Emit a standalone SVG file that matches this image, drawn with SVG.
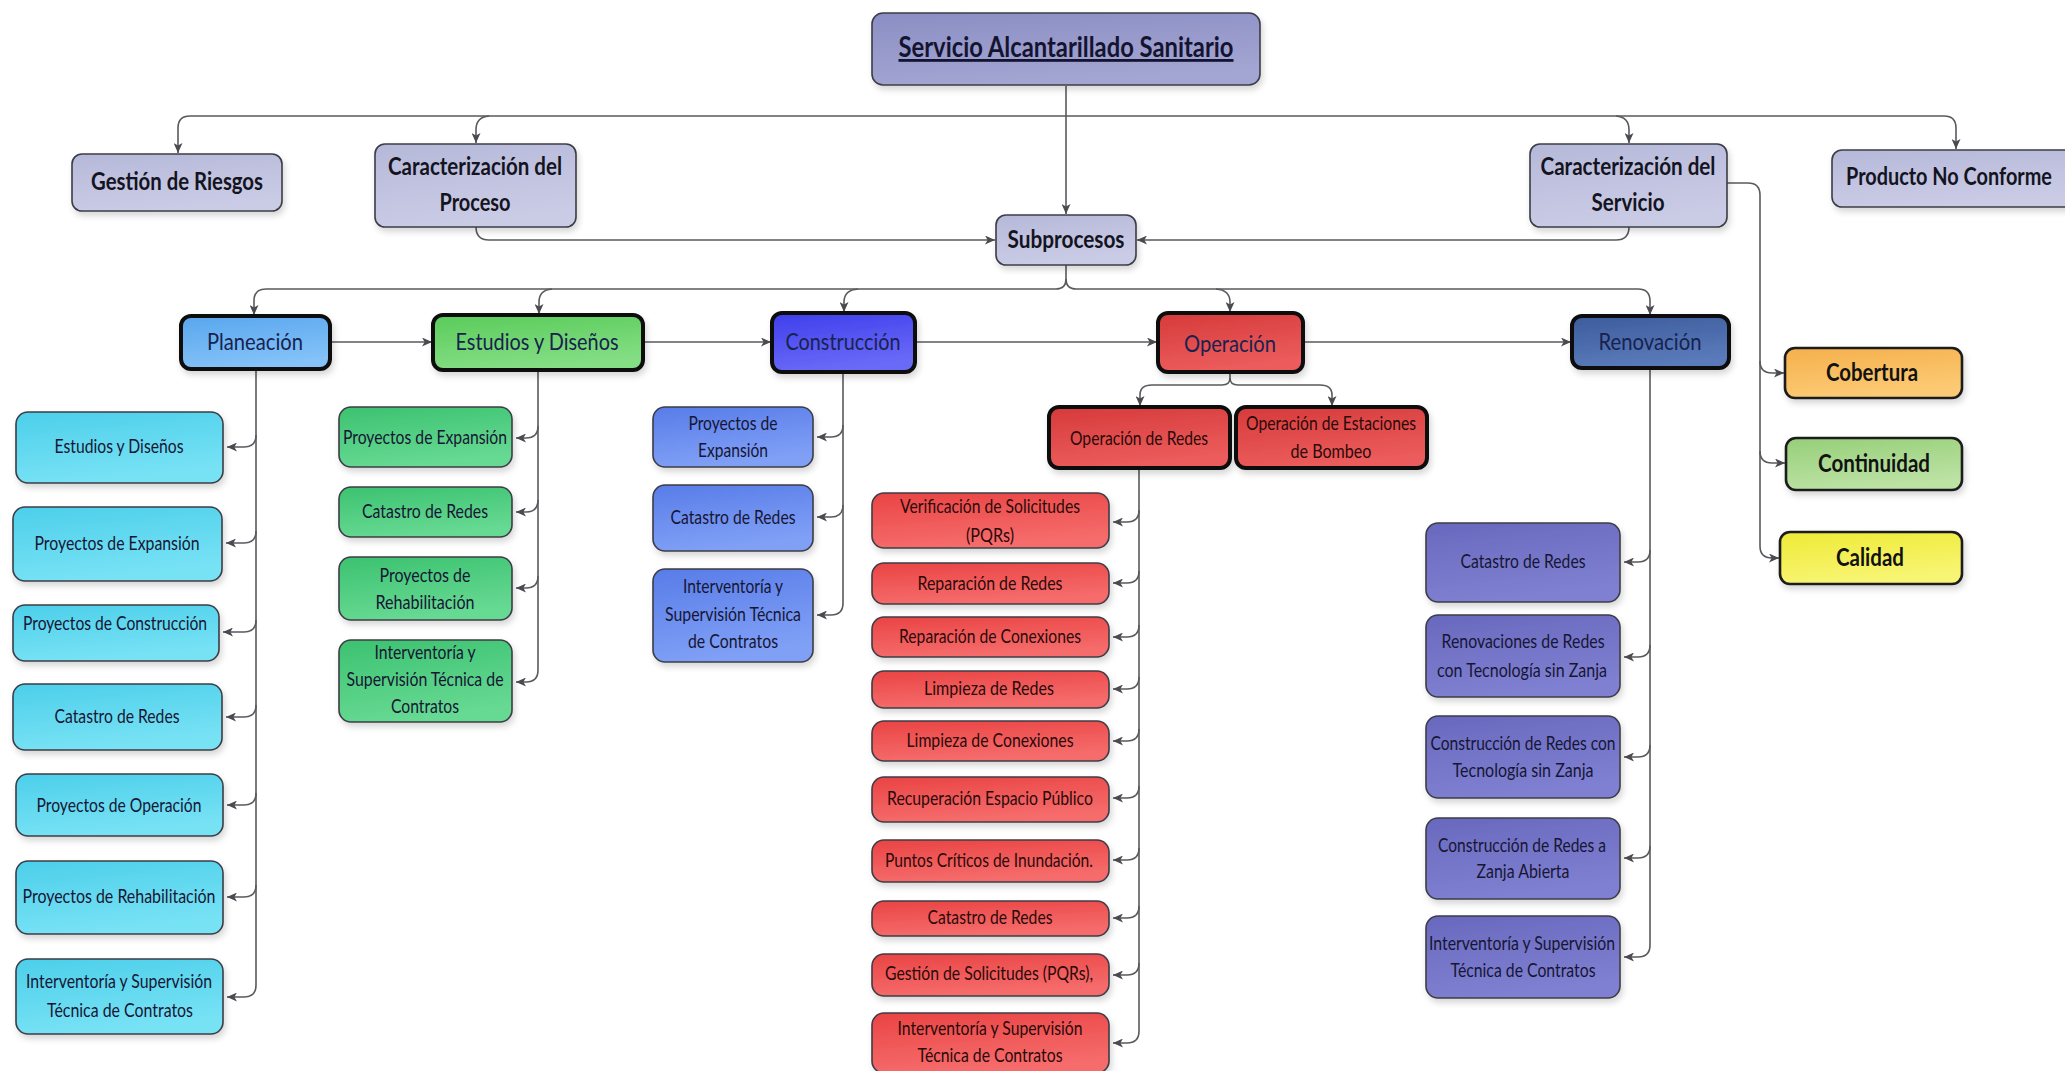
<svg xmlns="http://www.w3.org/2000/svg" width="2065" height="1071" viewBox="0 0 2065 1071">
  <style>
    .box { stroke: #3c3c46; stroke-width: 1.6; filter: url(#sh); }
    .thick { stroke: #0c0c0c; stroke-width: 4; }
    .mid { stroke: #1a1a1a; stroke-width: 2.6; }
    .t { font-family: Lato, "Open Sans", "Liberation Sans", sans-serif; font-size: 19px; fill: #161634; text-anchor: middle; }
    .tr { fill: #2a0a0a; }
    .sub { font-size: 24px; fill: #18224e; }
    .top { font-size: 25px; font-weight: 700; fill: #14141e; }
    .q { font-size: 25px; font-weight: 700; fill: #121212; }
    .title { font-size: 28px; font-weight: 700; fill: #141430; text-decoration: underline; }
    .op { font-size: 20px; }
    .c { fill: none; stroke: #5a5a5e; stroke-width: 1.6; }
    .a { marker-end: url(#ah); }
  </style>
  <defs>
    <marker id="ah" markerUnits="userSpaceOnUse" markerWidth="11" markerHeight="9" refX="10" refY="4.5" orient="auto">
      <path d="M0,0 L10,4.5 L0,9 L2.6,4.5 Z" fill="#4a4a50"/>
    </marker>
    <filter id="sh" x="-10%" y="-10%" width="130%" height="140%">
      <feDropShadow dx="2" dy="4" stdDeviation="3" flood-color="#000" flood-opacity="0.16"/>
    </filter>
    <linearGradient id="gLav" x1="0" y1="0" x2="0.3" y2="1"><stop offset="0" stop-color="#b6b8d9"/><stop offset="1" stop-color="#cacce6"/></linearGradient>
    <linearGradient id="gSrv" x1="0" y1="0" x2="0.3" y2="1"><stop offset="0" stop-color="#8b8ec3"/><stop offset="1" stop-color="#a3a6d2"/></linearGradient>
    <linearGradient id="gPla" x1="0" y1="0" x2="0.3" y2="1"><stop offset="0" stop-color="#58a6ee"/><stop offset="1" stop-color="#84c2f8"/></linearGradient>
    <linearGradient id="gEst" x1="0" y1="0" x2="0.3" y2="1"><stop offset="0" stop-color="#5acb5a"/><stop offset="1" stop-color="#84de84"/></linearGradient>
    <linearGradient id="gCon" x1="0" y1="0" x2="0.3" y2="1"><stop offset="0" stop-color="#3e3eec"/><stop offset="1" stop-color="#6a6af8"/></linearGradient>
    <linearGradient id="gOpe" x1="0" y1="0" x2="0.3" y2="1"><stop offset="0" stop-color="#d63a3a"/><stop offset="1" stop-color="#ec5c5c"/></linearGradient>
    <linearGradient id="gRen" x1="0" y1="0" x2="0.3" y2="1"><stop offset="0" stop-color="#3c5c9c"/><stop offset="1" stop-color="#5a7aba"/></linearGradient>
    <linearGradient id="gCya" x1="0" y1="0" x2="0.3" y2="1"><stop offset="0" stop-color="#4ccfea"/><stop offset="1" stop-color="#78e2f5"/></linearGradient>
    <linearGradient id="gGrn" x1="0" y1="0" x2="0.3" y2="1"><stop offset="0" stop-color="#3cc270"/><stop offset="1" stop-color="#66d992"/></linearGradient>
    <linearGradient id="gBlu" x1="0" y1="0" x2="0.3" y2="1"><stop offset="0" stop-color="#587ce8"/><stop offset="1" stop-color="#80a0f6"/></linearGradient>
    <linearGradient id="gRed" x1="0" y1="0" x2="0.3" y2="1"><stop offset="0" stop-color="#ea4444"/><stop offset="1" stop-color="#f66c6c"/></linearGradient>
    <linearGradient id="gPur" x1="0" y1="0" x2="0.3" y2="1"><stop offset="0" stop-color="#6868be"/><stop offset="1" stop-color="#8080d2"/></linearGradient>
    <linearGradient id="gCob" x1="0" y1="0" x2="0.3" y2="1"><stop offset="0" stop-color="#f5b04c"/><stop offset="1" stop-color="#fcca74"/></linearGradient>
    <linearGradient id="gCnt" x1="0" y1="0" x2="0.3" y2="1"><stop offset="0" stop-color="#96cf78"/><stop offset="1" stop-color="#bce2a4"/></linearGradient>
    <linearGradient id="gCal" x1="0" y1="0" x2="0.3" y2="1"><stop offset="0" stop-color="#eeea36"/><stop offset="1" stop-color="#f8f574"/></linearGradient>
  </defs>

  <rect width="2065" height="1071" fill="#ffffff"/>

  <!-- connectors -->
  <g id="connectors">
    <!-- root to Subprocesos -->
    <path class="c a" d="M1066,86 V214"/>
    <!-- upper bus -->
    <path class="c a" d="M1066,116 H190 Q178,116 178,128 V153"/>
    <path class="c a" d="M1066,116 H1944 Q1956,116 1956,128 V149"/>
    <path class="c a" d="M489,116 Q476,117 476,130 V143"/>
    <path class="c a" d="M1616,116 Q1629,117 1629,130 V143"/>
    <!-- characterisations into Subprocesos -->
    <path class="c a" d="M476,227 Q476,240 489,240 H995"/>
    <path class="c a" d="M1629,227 Q1629,240 1616,240 H1137"/>
    <!-- Caracterización del Servicio to quality attributes -->
    <path class="c a" d="M1727,183 H1748 Q1760,183 1760,195 V546 Q1760,558 1772,558 H1779"/>
    <path class="c a" d="M1760,361 Q1760,373 1772,373 H1784"/>
    <path class="c a" d="M1760,451 Q1760,463 1772,463 H1785"/>
    <!-- Subprocesos to lower bus -->
    <path class="c a" d="M1066,265 V279 Q1066,289 1056,289 H266 Q254,289 254,301 V315"/>
    <path class="c a" d="M1066,279 Q1066,289 1076,289 H1638 Q1650,289 1650,301 V315"/>
    <path class="c a" d="M552,289 Q539,290 539,302 V314"/>
    <path class="c a" d="M858,289 Q844,290 844,302 V312"/>
    <path class="c a" d="M1216,289 Q1230,290 1230,302 V312"/>
    <!-- process chain -->
    <path class="c a" d="M330,342 H432"/>
    <path class="c a" d="M643,342 H771"/>
    <path class="c a" d="M915,342 H1157"/>
    <path class="c a" d="M1303,342 H1571"/>
    <!-- Operación split -->
    <path class="c a" d="M1230,372 V378 Q1230,385 1222,385 H1152 Q1140,385 1140,395 V406"/>
    <path class="c a" d="M1230,378 Q1230,385 1238,385 H1320 Q1332,385 1332,395 V406"/>
    <!-- Planeación children -->
    <path class="c a" d="M256,369 V985 Q256,997 244,997 H227"/>
    <path class="c a" d="M256,435 Q256,447 244,447 H227"/>
    <path class="c a" d="M256,531 Q256,543 244,543 H226"/>
    <path class="c a" d="M256,620 Q256,632 244,632 H223"/>
    <path class="c a" d="M256,705 Q256,717 244,717 H226"/>
    <path class="c a" d="M256,793 Q256,805 244,805 H227"/>
    <path class="c a" d="M256,885 Q256,897 244,897 H227"/>
    <!-- Estudios y Diseños children -->
    <path class="c a" d="M538,370 V670 Q538,682 526,682 H516"/>
    <path class="c a" d="M538,426 Q538,438 526,438 H516"/>
    <path class="c a" d="M538,500 Q538,512 526,512 H516"/>
    <path class="c a" d="M538,576 Q538,588 526,588 H516"/>
    <!-- Construcción children -->
    <path class="c a" d="M843,372 V603 Q843,615 831,615 H817"/>
    <path class="c a" d="M843,425 Q843,437 831,437 H817"/>
    <path class="c a" d="M843,505 Q843,517 831,517 H817"/>
    <!-- Operación de Redes children -->
    <path class="c a" d="M1139,468 V1031 Q1139,1043 1127,1043 H1113"/>
    <path class="c a" d="M1139,510 Q1139,522 1127,522 H1113"/>
    <path class="c a" d="M1139,571 Q1139,583 1127,583 H1113"/>
    <path class="c a" d="M1139,625 Q1139,637 1127,637 H1113"/>
    <path class="c a" d="M1139,677 Q1139,689 1127,689 H1113"/>
    <path class="c a" d="M1139,729 Q1139,741 1127,741 H1113"/>
    <path class="c a" d="M1139,786 Q1139,798 1127,798 H1113"/>
    <path class="c a" d="M1139,848 Q1139,860 1127,860 H1113"/>
    <path class="c a" d="M1139,906 Q1139,918 1127,918 H1113"/>
    <path class="c a" d="M1139,963 Q1139,975 1127,975 H1113"/>
    <!-- Renovación children -->
    <path class="c a" d="M1650,368 V945 Q1650,957 1638,957 H1624"/>
    <path class="c a" d="M1650,550 Q1650,562 1638,562 H1624"/>
    <path class="c a" d="M1650,645 Q1650,657 1638,657 H1624"/>
    <path class="c a" d="M1650,745 Q1650,757 1638,757 H1624"/>
    <path class="c a" d="M1650,846 Q1650,858 1638,858 H1624"/>
  </g>

  <!-- top level -->
  <g id="n-servicio">
    <rect class="box" x="872" y="13" width="388" height="72" rx="11" fill="url(#gSrv)"/>
    <text class="t title" x="1066" y="57" textLength="335" lengthAdjust="spacingAndGlyphs">Servicio Alcantarillado Sanitario</text>
  </g>
  <g id="n-gestion-riesgos">
    <rect class="box" x="72" y="154" width="210" height="57" rx="10" fill="url(#gLav)"/>
    <text class="t top" x="177" y="190" textLength="172" lengthAdjust="spacingAndGlyphs">Gestión de Riesgos</text>
  </g>
  <g id="n-caract-proceso">
    <rect class="box" x="375" y="144" width="201" height="83" rx="10" fill="url(#gLav)"/>
    <text class="t top" x="475" y="175" textLength="174" lengthAdjust="spacingAndGlyphs">Caracterización del</text>
    <text class="t top" x="475" y="211" textLength="71" lengthAdjust="spacingAndGlyphs">Proceso</text>
  </g>
  <g id="n-caract-servicio">
    <rect class="box" x="1530" y="144" width="197" height="83" rx="10" fill="url(#gLav)"/>
    <text class="t top" x="1628" y="175" textLength="175" lengthAdjust="spacingAndGlyphs">Caracterización del</text>
    <text class="t top" x="1628" y="211" textLength="73" lengthAdjust="spacingAndGlyphs">Servicio</text>
  </g>
  <g id="n-producto-no-conforme">
    <rect class="box" x="1832" y="150" width="260" height="57" rx="10" fill="url(#gLav)"/>
    <text class="t top" x="1949" y="185" textLength="206" lengthAdjust="spacingAndGlyphs">Producto No Conforme</text>
  </g>
  <g id="n-subprocesos">
    <rect class="box" x="996" y="215" width="140" height="50" rx="10" fill="url(#gLav)"/>
    <text class="t top" x="1066" y="248" textLength="117" lengthAdjust="spacingAndGlyphs">Subprocesos</text>
  </g>

  <!-- subprocesses -->
  <g id="n-planeacion">
    <rect class="box thick" x="181" y="316" width="149" height="53" rx="10" fill="url(#gPla)"/>
    <text class="t sub" x="255" y="350" textLength="96" lengthAdjust="spacingAndGlyphs">Planeación</text>
  </g>
  <g id="n-estudios-disenos">
    <rect class="box thick" x="433" y="315" width="210" height="55" rx="10" fill="url(#gEst)"/>
    <text class="t sub" x="537" y="350" textLength="163" lengthAdjust="spacingAndGlyphs">Estudios y Diseños</text>
  </g>
  <g id="n-construccion">
    <rect class="box thick" x="772" y="313" width="143" height="59" rx="10" fill="url(#gCon)"/>
    <text class="t sub" x="843" y="350" textLength="115" lengthAdjust="spacingAndGlyphs">Construcción</text>
  </g>
  <g id="n-operacion">
    <rect class="box thick" x="1158" y="313" width="145" height="59" rx="10" fill="url(#gOpe)"/>
    <text class="t sub" x="1230" y="352" textLength="92" lengthAdjust="spacingAndGlyphs">Operación</text>
  </g>
  <g id="n-renovacion">
    <rect class="box thick" x="1572" y="316" width="157" height="52" rx="10" fill="url(#gRen)"/>
    <text class="t sub" x="1650" y="350" textLength="103" lengthAdjust="spacingAndGlyphs">Renovación</text>
  </g>

  <!-- service characteristics -->
  <g id="n-cobertura">
    <rect class="box mid" x="1785" y="348" width="177" height="50" rx="10" fill="url(#gCob)"/>
    <text class="t q" x="1872" y="381" textLength="92" lengthAdjust="spacingAndGlyphs">Cobertura</text>
  </g>
  <g id="n-continuidad">
    <rect class="box mid" x="1786" y="438" width="176" height="52" rx="10" fill="url(#gCnt)"/>
    <text class="t q" x="1874" y="472" textLength="112" lengthAdjust="spacingAndGlyphs">Continuidad</text>
  </g>
  <g id="n-calidad">
    <rect class="box mid" x="1780" y="532" width="182" height="52" rx="10" fill="url(#gCal)"/>
    <text class="t q" x="1870" y="566" textLength="68" lengthAdjust="spacingAndGlyphs">Calidad</text>
  </g>

  <!-- Planeación activities -->
  <g id="n-pla-estudios">
    <rect class="box" x="16" y="412" width="207" height="71" rx="12" fill="url(#gCya)"/>
    <text class="t" x="119" y="453" textLength="129" lengthAdjust="spacingAndGlyphs">Estudios y Diseños</text>
  </g>
  <g id="n-pla-expansion">
    <rect class="box" x="13" y="507" width="209" height="74" rx="12" fill="url(#gCya)"/>
    <text class="t" x="117" y="550" textLength="165" lengthAdjust="spacingAndGlyphs">Proyectos de Expansión</text>
  </g>
  <g id="n-pla-construccion">
    <rect class="box" x="13" y="605" width="206" height="56" rx="12" fill="url(#gCya)"/>
    <text class="t" x="115" y="630" textLength="184" lengthAdjust="spacingAndGlyphs">Proyectos de Construcción</text>
  </g>
  <g id="n-pla-catastro">
    <rect class="box" x="13" y="684" width="209" height="66" rx="12" fill="url(#gCya)"/>
    <text class="t" x="117" y="723" textLength="125" lengthAdjust="spacingAndGlyphs">Catastro de Redes</text>
  </g>
  <g id="n-pla-operacion">
    <rect class="box" x="16" y="774" width="207" height="62" rx="12" fill="url(#gCya)"/>
    <text class="t" x="119" y="812" textLength="165" lengthAdjust="spacingAndGlyphs">Proyectos de Operación</text>
  </g>
  <g id="n-pla-rehabilitacion">
    <rect class="box" x="16" y="861" width="207" height="73" rx="12" fill="url(#gCya)"/>
    <text class="t" x="119" y="903" textLength="193" lengthAdjust="spacingAndGlyphs">Proyectos de Rehabilitación</text>
  </g>
  <g id="n-pla-interventoria">
    <rect class="box" x="16" y="959" width="207" height="75" rx="12" fill="url(#gCya)"/>
    <text class="t" x="119" y="988" textLength="186" lengthAdjust="spacingAndGlyphs">Interventoría y Supervisión</text>
    <text class="t" x="120" y="1017" textLength="146" lengthAdjust="spacingAndGlyphs">Técnica de Contratos</text>
  </g>

  <!-- Estudios y Diseños activities -->
  <g id="n-est-expansion">
    <rect class="box" x="339" y="407" width="173" height="60" rx="12" fill="url(#gGrn)"/>
    <text class="t" x="425" y="444" textLength="164" lengthAdjust="spacingAndGlyphs">Proyectos de Expansión</text>
  </g>
  <g id="n-est-catastro">
    <rect class="box" x="339" y="487" width="173" height="50" rx="12" fill="url(#gGrn)"/>
    <text class="t" x="425" y="518" textLength="126" lengthAdjust="spacingAndGlyphs">Catastro de Redes</text>
  </g>
  <g id="n-est-rehabilitacion">
    <rect class="box" x="339" y="557" width="173" height="63" rx="12" fill="url(#gGrn)"/>
    <text class="t" x="425" y="582" textLength="91" lengthAdjust="spacingAndGlyphs">Proyectos de</text>
    <text class="t" x="425" y="609" textLength="99" lengthAdjust="spacingAndGlyphs">Rehabilitación</text>
  </g>
  <g id="n-est-interventoria">
    <rect class="box" x="339" y="640" width="173" height="82" rx="12" fill="url(#gGrn)"/>
    <text class="t" x="425" y="659" textLength="101" lengthAdjust="spacingAndGlyphs">Interventoría y</text>
    <text class="t" x="425" y="686" textLength="157" lengthAdjust="spacingAndGlyphs">Supervisión Técnica de</text>
    <text class="t" x="425" y="713" textLength="68" lengthAdjust="spacingAndGlyphs">Contratos</text>
  </g>

  <!-- Construcción activities -->
  <g id="n-con-expansion">
    <rect class="box" x="653" y="407" width="160" height="60" rx="12" fill="url(#gBlu)"/>
    <text class="t" x="733" y="430" textLength="89" lengthAdjust="spacingAndGlyphs">Proyectos de</text>
    <text class="t" x="733" y="457" textLength="70" lengthAdjust="spacingAndGlyphs">Expansión</text>
  </g>
  <g id="n-con-catastro">
    <rect class="box" x="653" y="485" width="160" height="66" rx="12" fill="url(#gBlu)"/>
    <text class="t" x="733" y="524" textLength="125" lengthAdjust="spacingAndGlyphs">Catastro de Redes</text>
  </g>
  <g id="n-con-interventoria">
    <rect class="box" x="653" y="569" width="160" height="93" rx="12" fill="url(#gBlu)"/>
    <text class="t" x="733" y="593" textLength="100" lengthAdjust="spacingAndGlyphs">Interventoría y</text>
    <text class="t" x="733" y="621" textLength="136" lengthAdjust="spacingAndGlyphs">Supervisión Técnica</text>
    <text class="t" x="733" y="648" textLength="90" lengthAdjust="spacingAndGlyphs">de Contratos</text>
  </g>

  <!-- Operación branches -->
  <g id="n-ope-redes">
    <rect class="box thick" x="1049" y="407" width="181" height="61" rx="10" fill="url(#gOpe)"/>
    <text class="t op tr" x="1139" y="445" textLength="138" lengthAdjust="spacingAndGlyphs">Operación de Redes</text>
  </g>
  <g id="n-ope-estaciones">
    <rect class="box thick" x="1236" y="407" width="191" height="61" rx="10" fill="url(#gOpe)"/>
    <text class="t op tr" x="1331" y="430" textLength="170" lengthAdjust="spacingAndGlyphs">Operación de Estaciones</text>
    <text class="t op tr" x="1331" y="458" textLength="81" lengthAdjust="spacingAndGlyphs">de Bombeo</text>
  </g>

  <!-- Operación de Redes activities -->
  <g id="n-red-verificacion">
    <rect class="box" x="872" y="493" width="237" height="55" rx="12" fill="url(#gRed)"/>
    <text class="t tr" x="990" y="513" textLength="180" lengthAdjust="spacingAndGlyphs">Verificación de Solicitudes</text>
    <text class="t tr" x="990" y="542" textLength="48" lengthAdjust="spacingAndGlyphs">(PQRs)</text>
  </g>
  <g id="n-red-reparacion-redes">
    <rect class="box" x="872" y="563" width="237" height="41" rx="12" fill="url(#gRed)"/>
    <text class="t tr" x="990" y="590" textLength="145" lengthAdjust="spacingAndGlyphs">Reparación de Redes</text>
  </g>
  <g id="n-red-reparacion-conexiones">
    <rect class="box" x="872" y="617" width="237" height="40" rx="12" fill="url(#gRed)"/>
    <text class="t tr" x="990" y="643" textLength="182" lengthAdjust="spacingAndGlyphs">Reparación de Conexiones</text>
  </g>
  <g id="n-red-limpieza-redes">
    <rect class="box" x="872" y="671" width="237" height="37" rx="12" fill="url(#gRed)"/>
    <text class="t tr" x="989" y="695" textLength="130" lengthAdjust="spacingAndGlyphs">Limpieza de Redes</text>
  </g>
  <g id="n-red-limpieza-conexiones">
    <rect class="box" x="872" y="721" width="237" height="40" rx="12" fill="url(#gRed)"/>
    <text class="t tr" x="990" y="747" textLength="167" lengthAdjust="spacingAndGlyphs">Limpieza de Conexiones</text>
  </g>
  <g id="n-red-espacio-publico">
    <rect class="box" x="872" y="777" width="237" height="45" rx="12" fill="url(#gRed)"/>
    <text class="t tr" x="990" y="805" textLength="206" lengthAdjust="spacingAndGlyphs">Recuperación Espacio Público</text>
  </g>
  <g id="n-red-puntos-criticos">
    <rect class="box" x="872" y="840" width="237" height="42" rx="12" fill="url(#gRed)"/>
    <text class="t tr" x="989" y="867" textLength="208" lengthAdjust="spacingAndGlyphs">Puntos Críticos de Inundación.</text>
  </g>
  <g id="n-red-catastro">
    <rect class="box" x="872" y="901" width="237" height="35" rx="12" fill="url(#gRed)"/>
    <text class="t tr" x="990" y="924" textLength="125" lengthAdjust="spacingAndGlyphs">Catastro de Redes</text>
  </g>
  <g id="n-red-gestion-solicitudes">
    <rect class="box" x="872" y="954" width="237" height="42" rx="12" fill="url(#gRed)"/>
    <text class="t tr" x="989" y="980" textLength="208" lengthAdjust="spacingAndGlyphs">Gestión de Solicitudes (PQRs),</text>
  </g>
  <g id="n-red-interventoria">
    <rect class="box" x="872" y="1013" width="237" height="60" rx="12" fill="url(#gRed)"/>
    <text class="t tr" x="990" y="1035" textLength="185" lengthAdjust="spacingAndGlyphs">Interventoría y Supervisión</text>
    <text class="t tr" x="990" y="1062" textLength="145" lengthAdjust="spacingAndGlyphs">Técnica de Contratos</text>
  </g>

  <!-- Renovación activities -->
  <g id="n-ren-catastro">
    <rect class="box" x="1426" y="523" width="194" height="79" rx="12" fill="url(#gPur)"/>
    <text class="t" x="1523" y="568" textLength="125" lengthAdjust="spacingAndGlyphs">Catastro de Redes</text>
  </g>
  <g id="n-ren-renovaciones">
    <rect class="box" x="1426" y="615" width="194" height="82" rx="12" fill="url(#gPur)"/>
    <text class="t" x="1523" y="648" textLength="163" lengthAdjust="spacingAndGlyphs">Renovaciones de Redes</text>
    <text class="t" x="1522" y="677" textLength="170" lengthAdjust="spacingAndGlyphs">con Tecnología sin Zanja</text>
  </g>
  <g id="n-ren-sin-zanja">
    <rect class="box" x="1426" y="716" width="194" height="82" rx="12" fill="url(#gPur)"/>
    <text class="t" x="1523" y="750" textLength="185" lengthAdjust="spacingAndGlyphs">Construcción de Redes con</text>
    <text class="t" x="1523" y="777" textLength="141" lengthAdjust="spacingAndGlyphs">Tecnología sin Zanja</text>
  </g>
  <g id="n-ren-zanja-abierta">
    <rect class="box" x="1426" y="818" width="194" height="81" rx="12" fill="url(#gPur)"/>
    <text class="t" x="1522" y="852" textLength="168" lengthAdjust="spacingAndGlyphs">Construcción de Redes a</text>
    <text class="t" x="1523" y="878" textLength="93" lengthAdjust="spacingAndGlyphs">Zanja Abierta</text>
  </g>
  <g id="n-ren-interventoria">
    <rect class="box" x="1426" y="916" width="194" height="82" rx="12" fill="url(#gPur)"/>
    <text class="t" x="1522" y="950" textLength="186" lengthAdjust="spacingAndGlyphs">Interventoría y Supervisión</text>
    <text class="t" x="1523" y="977" textLength="145" lengthAdjust="spacingAndGlyphs">Técnica de Contratos</text>
  </g>
</svg>
